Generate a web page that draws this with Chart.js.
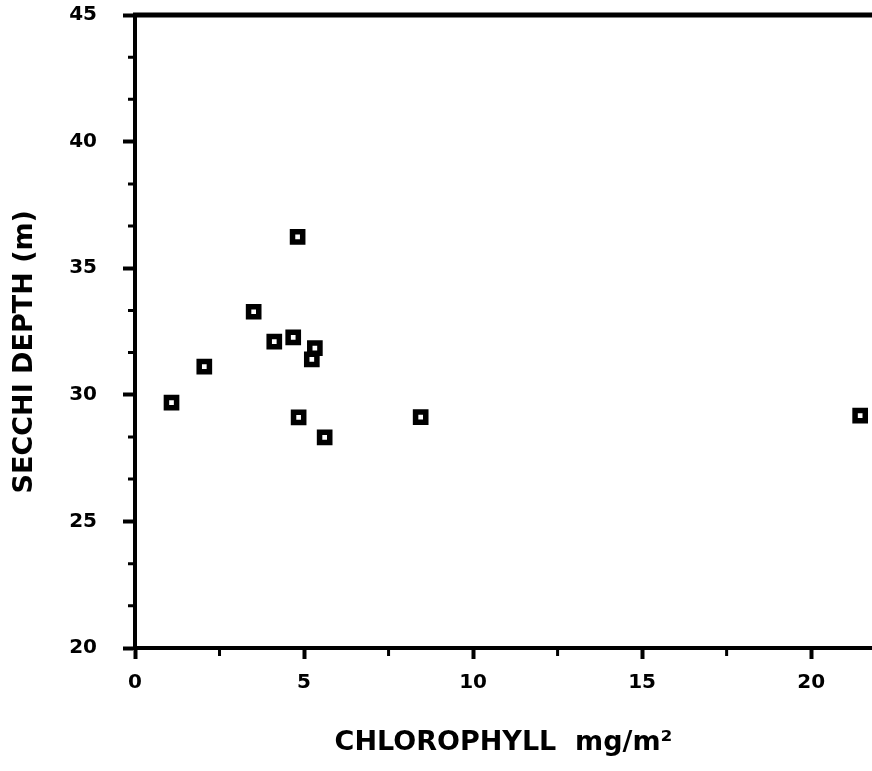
<!DOCTYPE html>
<html>
<head>
<meta charset="utf-8">
<title>Secchi depth vs chlorophyll</title>
<script src="https://cdn.jsdelivr.net/npm/chart.js@4.4.1/dist/chart.umd.min.js"></script>
<style>
  html, body { margin: 0; padding: 0; background: #fff; }
  canvas { display: block; }
</style>
</head>
<body>
<canvas id="secchi-chart" width="872" height="771"></canvas>
<script>
let chlorophyll = [1.08, 2.05, 3.51, 4.12, 4.68, 4.81, 5.32, 5.23, 4.84, 5.61, 8.45, 21.45];
let secchiDepth = [29.69, 31.11, 33.28, 32.10, 32.27, 36.24, 31.84, 31.40, 29.11, 28.32, 29.12, 29.18];

let xTicks = [0, 5, 10, 15, 20];
let yTicks = [20, 25, 30, 35, 40, 45];
let xMinorTicks = [2.5, 7.5, 12.5, 17.5];
let yMinorTicks = [21.67, 23.33, 26.67, 28.33, 31.67, 33.33, 36.67, 38.33, 41.67, 43.33];

let xTitle = 'CHLOROPHYLL  mg/m²';
let yTitle = 'SECCHI DEPTH (m)';

let fontFamily = '"DejaVu Sans", "Liberation Sans", Arial, sans-serif';

// top frame line, the small in-between ticks and the vertical axis title
let frameTicks = {
    id: 'frameTicks',
    afterDraw: function (chart) {
        let ctx = chart.ctx,
            area = chart.chartArea,
            xs = chart.scales.x,
            ys = chart.scales.y;
        ctx.save();
        ctx.strokeStyle = '#000';
        ctx.lineWidth = 5;
        ctx.beginPath();
        ctx.moveTo(area.left - 2, area.top);
        ctx.lineTo(chart.width, area.top);
        ctx.stroke();

        ctx.lineWidth = 3;
        ctx.beginPath();
        xMinorTicks.forEach(function (v) {
            let px = xs.getPixelForValue(v);
            ctx.moveTo(px, area.bottom);
            ctx.lineTo(px, area.bottom + 8);
        });
        yMinorTicks.forEach(function (v) {
            let py = ys.getPixelForValue(v);
            ctx.moveTo(area.left, py);
            ctx.lineTo(area.left - 7, py);
        });
        ctx.stroke();

        // title sits a little below the middle of the y axis
        ctx.translate(25, ys.getPixelForValue(31.7));
        ctx.rotate(-Math.PI / 2);
        ctx.fillStyle = '#000';
        ctx.font = 'bold 27px ' + fontFamily;
        ctx.textAlign = 'center';
        ctx.textBaseline = 'middle';
        ctx.fillText(yTitle, 0, 0);
        ctx.restore();
    }
};

window.onload = function () {
    let ctx = document.getElementById('secchi-chart').getContext('2d');
    let secchiChart = new Chart(ctx, {
        type: 'scatter',
        data: {
            datasets: [{
                label: 'Secchi depth',
                data: chlorophyll.map(function (c, i) { return { x: c, y: secchiDepth[i] }; }),
                pointStyle: 'rect',
                pointRadius: 7.2,
                pointHoverRadius: 7.2,
                borderWidth: 5.5,
                borderColor: '#000',
                backgroundColor: '#fff'
            }]
        },
        options: {
            responsive: false,
            devicePixelRatio: 1,
            animation: false,
            clip: false,
            layout: {
                autoPadding: false,
                padding: { left: 0, top: 15, right: 0, bottom: 0 }
            },
            plugins: {
                legend: { display: false },
                tooltip: { enabled: false }
            },
            scales: {
                x: {
                    type: 'linear',
                    min: 0,
                    max: 21.8,
                    afterBuildTicks: function (axis) {
                        axis.ticks = xTicks.map(function (v) { return { value: v }; });
                    },
                    afterFit: function (axis) { axis.height = 123; },
                    grid: {
                        drawOnChartArea: false,
                        drawTicks: true,
                        tickLength: 11,
                        tickWidth: 4,
                        tickColor: '#000'
                    },
                    border: { display: true, color: '#000', width: 4 },
                    ticks: {
                        color: '#000',
                        padding: 12,
                        maxRotation: 0,
                        font: { family: fontFamily, size: 20, weight: 'bold' }
                    },
                    title: {
                        display: true,
                        text: xTitle,
                        color: '#000',
                        padding: { top: 0, bottom: 12 },
                        font: { family: fontFamily, size: 27, weight: 'bold' }
                    }
                },
                y: {
                    type: 'linear',
                    min: 20,
                    max: 45,
                    afterBuildTicks: function (axis) {
                        axis.ticks = yTicks.map(function (v) { return { value: v }; });
                    },
                    afterFit: function (axis) {
                        axis.width = 135;
                        axis.paddingTop = 0;
                        axis.paddingBottom = 0;
                    },
                    grid: {
                        drawOnChartArea: false,
                        drawTicks: true,
                        tickLength: 12,
                        tickWidth: 4,
                        tickColor: '#000'
                    },
                    border: { display: true, color: '#000', width: 4 },
                    ticks: {
                        color: '#000',
                        padding: 26,
                        font: { family: fontFamily, size: 20, weight: 'bold' }
                    },
                    title: { display: false }
                }
            }
        },
        plugins: [frameTicks]
    });
};
</script>
</body>
</html>
